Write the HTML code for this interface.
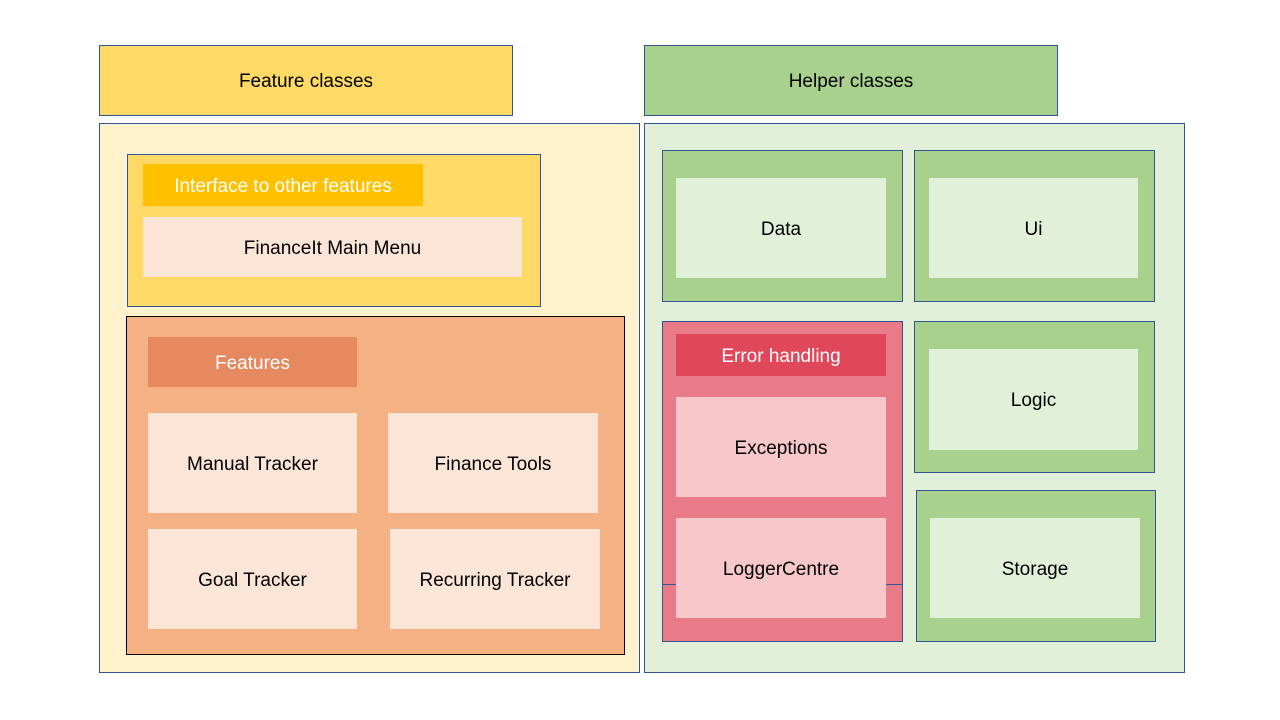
<!DOCTYPE html>
<html><head><style>
body{margin:0;width:1280px;height:720px;background:#fff;position:relative;font-family:"Liberation Sans",sans-serif;overflow:hidden}
.b{position:absolute;box-sizing:border-box;display:flex;align-items:center;justify-content:center;font-size:19px;color:#000;padding-top:3px}
.bd{border:1px solid #2F5597}
.w{color:#fff}
</style></head><body>
<div class="b bd" style="left:99px;top:45px;width:414px;height:71px;background:#FFD966">Feature classes</div>
<div class="b bd" style="left:644px;top:45px;width:414px;height:71px;background:#A9D18E">Helper classes</div>
<div class="b bd" style="left:99px;top:123px;width:541px;height:550px;background:#FFF2CC"></div>
<div class="b bd" style="left:644px;top:123px;width:541px;height:550px;background:#E2F0D9"></div>

<div class="b bd" style="left:127px;top:154px;width:414px;height:153px;background:#FFD966"></div>
<div class="b w" style="left:143px;top:164px;width:280px;height:42px;background:#FFC000">Interface to other features</div>
<div class="b" style="left:143px;top:217px;width:379px;height:60px;background:#FBE5D6">FinanceIt Main Menu</div>

<div class="b" style="left:126px;top:316px;width:499px;height:339px;background:#F4B183;border:1px solid #000"></div>
<div class="b w" style="left:148px;top:337px;width:209px;height:50px;background:#E6895F">Features</div>
<div class="b" style="left:148px;top:413px;width:209px;height:100px;background:#FBE5D6">Manual Tracker</div>
<div class="b" style="left:388px;top:413px;width:210px;height:100px;background:#FBE5D6">Finance Tools</div>
<div class="b" style="left:148px;top:529px;width:209px;height:100px;background:#FBE5D6">Goal Tracker</div>
<div class="b" style="left:390px;top:529px;width:210px;height:100px;background:#FBE5D6">Recurring Tracker</div>

<div class="b bd" style="left:662px;top:150px;width:241px;height:152px;background:#A9D18E"></div>
<div class="b" style="left:676px;top:178px;width:210px;height:100px;background:#E2F0D9">Data</div>
<div class="b bd" style="left:914px;top:150px;width:241px;height:152px;background:#A9D18E"></div>
<div class="b" style="left:929px;top:178px;width:209px;height:100px;background:#E2F0D9">Ui</div>

<div class="b bd" style="left:662px;top:321px;width:241px;height:321px;background:#E97A88"></div>
<div style="position:absolute;left:662px;top:584px;width:241px;height:1px;background:#2F5597"></div>
<div class="b w" style="left:676px;top:334px;width:210px;height:42px;background:#E0475B">Error handling</div>
<div class="b" style="left:676px;top:397px;width:210px;height:100px;background:#F8C7CA">Exceptions</div>
<div class="b" style="left:676px;top:518px;width:210px;height:100px;background:#F8C7CA">LoggerCentre</div>

<div class="b bd" style="left:914px;top:321px;width:241px;height:152px;background:#A9D18E"></div>
<div class="b" style="left:929px;top:349px;width:209px;height:101px;background:#E2F0D9">Logic</div>
<div class="b bd" style="left:916px;top:490px;width:240px;height:152px;background:#A9D18E"></div>
<div class="b" style="left:930px;top:518px;width:210px;height:100px;background:#E2F0D9">Storage</div>
</body></html>
